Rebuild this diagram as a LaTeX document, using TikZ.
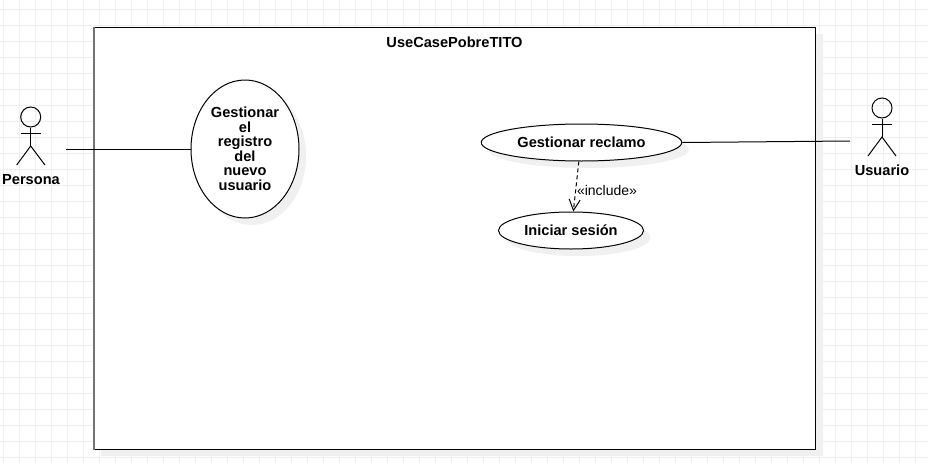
\documentclass[tikz,border=0pt]{standalone}
\usepackage{fontspec}
\setmainfont{Liberation Sans}
\usetikzlibrary{shapes.geometric,arrows.meta,shadows}
\definecolor{gridc}{HTML}{EEEEEE}
\definecolor{shadc}{HTML}{F0F0F0}
\tikzset{
  gridline/.style={gridc,line width=1pt},
  usecase/.style={ellipse,draw=black,fill=white,line width=1pt,inner sep=0pt,align=center,
    font=\fontsize{14.6}{14.5}\selectfont\bfseries,
    general shadow={fill=shadc,shadow xshift=7pt,shadow yshift=-7pt}},
  bold label/.style={inner sep=0pt,font=\fontsize{14.6}{14.5}\selectfont\bfseries},
  limb/.style={draw=black,line width=1pt},
  assoc/.style={draw=black,line width=1pt},
  incl/.style={draw=black,line width=1pt,dashed,dash pattern=on 4pt off 3pt,-{Straight Barb[length=11pt,width=11pt,line width=1pt]}},
}
\begin{document}
\begin{tikzpicture}[x=1pt,y=-1pt]
\useasboundingbox (0,0) rectangle (928,463);
\fill[white] (0,0) rectangle (928,463);
% grid
\foreach \gx in {0,...,57}{\draw[gridline] ({3+16*\gx},0) -- ({3+16*\gx},463);}
\foreach \gy in {0,...,28}{\draw[gridline] (0,{9+16*\gy}) -- (928,{9+16*\gy});}
% frame
\fill[shadc] (101,34) rectangle (822.5,456);
\node[draw=black,fill=white,line width=1pt,inner sep=0pt,minimum width=721pt,minimum height=422pt,anchor=north west] (frame) at (93.8,27) {};
\draw[black!55,line width=1.6pt] (frame.north west) -- (frame.south west);
\node[bold label] (title) at (454.5,42) {UseCasePobreTITO};
% use cases
\node[usecase,minimum width=108pt,minimum height=138pt] (uc1) at (245,149) {Gestionar\\el\\registro\\del\\nuevo\\usuario};
\node[usecase,minimum width=200.5pt,minimum height=37pt] (uc2) at (581.5,142.5) {Gestionar reclamo};
\node[usecase,minimum width=145pt,minimum height=37pt] (uc3) at (571,230.5) {Iniciar sesión};
% actor Persona
\node[circle,draw=black,line width=1pt,inner sep=0pt,minimum size=20pt] (phead) at (30.7,117) {};
\coordinate (phip) at (30.7,146);
\draw[limb] (phead.south) -- (phip);
\draw[limb] (20.7,133.5) -- (40.7,133.5);
\draw[limb] (16.7,165) -- (phip) -- (45,165);
\node[bold label] (pname) at (31,180) {Persona};
% actor Usuario
\node[circle,draw=black,line width=1pt,inner sep=0pt,minimum size=20pt] (uhead) at (882,108) {};
\coordinate (uhip) at (882,137);
\draw[limb] (uhead.south) -- (uhip);
\draw[limb] (872,124.5) -- (892,124.5);
\draw[limb] (868,156) -- (uhip) -- (896,156);
\node[bold label] (uname) at (882,170.7) {Usuario};
% connectors
\coordinate (pend) at (65.5,149);
\coordinate (uend) at (850,141);
\draw[assoc] (pend) -- (uc1.west);
\draw[assoc] (uc2.east) -- (uend);
\draw[incl] (uc2.262.3) -- (uc3.83.8);
\node[inner sep=0pt,font=\fontsize{14}{14.5}\selectfont] (inc) at (607,190) {«include»};
\end{tikzpicture}
\end{document}
